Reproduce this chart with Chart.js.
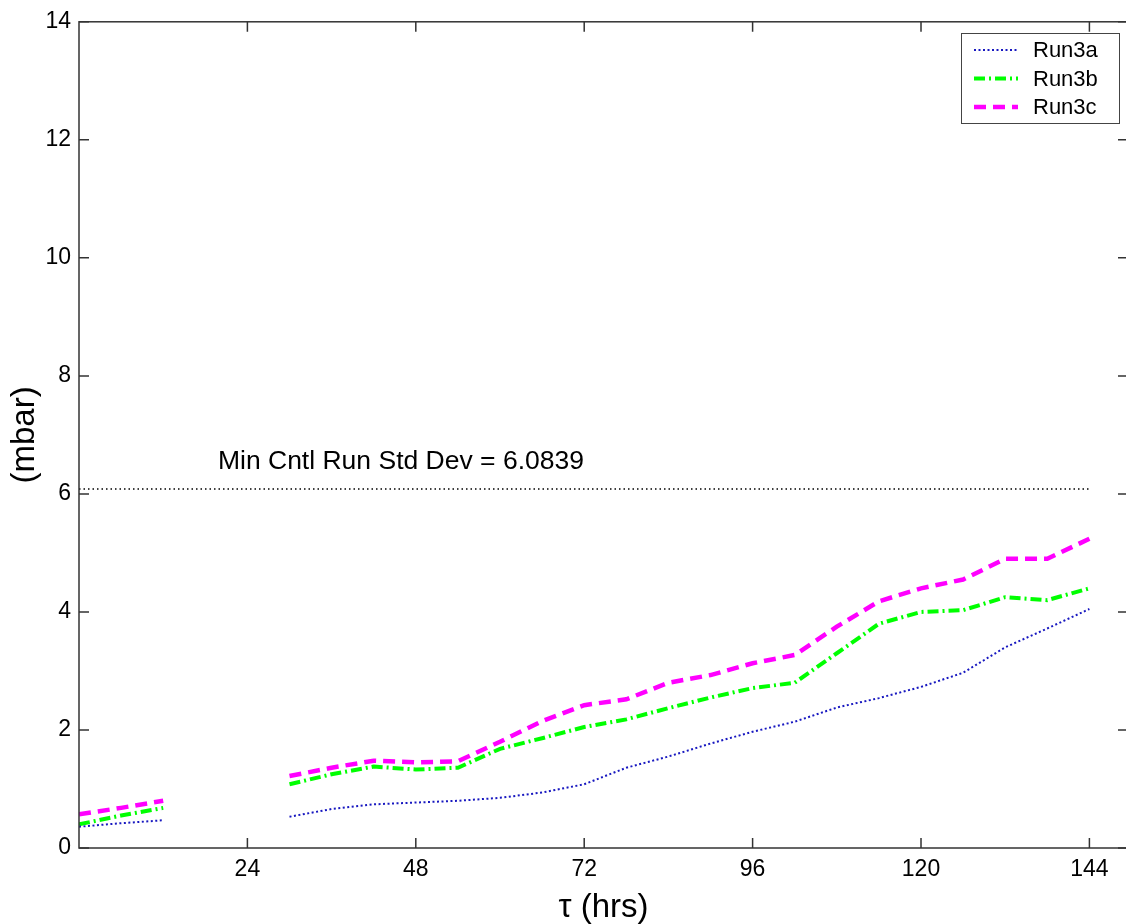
<!DOCTYPE html>
<html>
<head>
<meta charset="utf-8">
<script src="https://cdn.jsdelivr.net/npm/chart.js@4"></script>
<style>
  body { margin: 0; background: #fff; overflow: hidden; }
  #wrap { width: 1126px; height: 924px; overflow: hidden; }
</style>
</head>
<body>
<div id="wrap"><canvas id="myChart" width="1128" height="924"></canvas></div>
<script>
// forecast lead time (hrs), 18 and 24 are missing
const hours = [0, 6, 12, 18, 24, 30, 36, 42, 48, 54, 60, 66, 72, 78, 84, 90, 96, 102, 108, 114, 120, 126, 132, 138, 144];
const run3a = [0.36, 0.42, 0.47, null, null, 0.53, 0.66, 0.74, 0.77, 0.80, 0.85, 0.94, 1.08, 1.36, 1.55, 1.77, 1.97, 2.14, 2.38, 2.54, 2.73, 2.97, 3.40, 3.72, 4.05];
const run3b = [0.40, 0.55, 0.68, null, null, 1.08, 1.25, 1.38, 1.33, 1.36, 1.68, 1.86, 2.05, 2.18, 2.37, 2.55, 2.71, 2.80, 3.30, 3.80, 4.00, 4.03, 4.25, 4.20, 4.40];
const run3c = [0.57, 0.68, 0.80, null, null, 1.22, 1.36, 1.48, 1.45, 1.47, 1.80, 2.15, 2.42, 2.52, 2.80, 2.93, 3.13, 3.27, 3.75, 4.18, 4.40, 4.55, 4.90, 4.90, 5.24];

const refHours = [0, 144];
const refValue = 6.0839;
const refLabel = "Min Cntl Run Std Dev = 6.0839";

const xTicks = [24, 48, 72, 96, 120, 144];
const yTicks = [0, 2, 4, 6, 8, 10, 12, 14];

const FONT = "'Liberation Sans', Arial, sans-serif";

function toPoints(xs, ys) {
  return xs.map((x, i) => ({ x: x, y: ys[i] }));
}

// box, inward tick marks, text label and legend (matlab style)
const matlabPlugin = {
  id: "matlab",
  afterDraw(chart) {
    const { ctx, chartArea: a, scales } = chart;
    const xs = scales.x, ys = scales.y;
    ctx.save();
    ctx.strokeStyle = "#333";
    ctx.lineWidth = 1.5;
    ctx.strokeRect(a.left, a.top, a.right - a.left, a.bottom - a.top);

    const tl = 10;
    ctx.beginPath();
    xTicks.forEach((v) => {
      const px = xs.getPixelForValue(v);
      ctx.moveTo(px, a.bottom); ctx.lineTo(px, a.bottom - tl);
      ctx.moveTo(px, a.top); ctx.lineTo(px, a.top + tl);
    });
    yTicks.forEach((v) => {
      const py = ys.getPixelForValue(v);
      ctx.moveTo(a.left, py); ctx.lineTo(a.left + tl, py);
      ctx.moveTo(a.right, py); ctx.lineTo(a.right - tl, py);
    });
    ctx.stroke();

    // std dev label
    ctx.fillStyle = "#000";
    ctx.font = "26.5px " + FONT;
    ctx.textBaseline = "alphabetic";
    ctx.textAlign = "left";
    ctx.fillText(refLabel, xs.getPixelForValue(19.8), ys.getPixelForValue(6.42));

    // legend box
    const box = { left: 961, top: 33, width: 158, height: 90 };
    ctx.fillStyle = "#fff";
    ctx.fillRect(box.left, box.top, box.width, box.height);
    ctx.strokeStyle = "#444";
    ctx.lineWidth = 1;
    ctx.strokeRect(box.left + 0.5, box.top + 0.5, box.width, box.height);

    const items = chart.data.datasets.filter((d) => d.label);
    items.forEach((d, i) => {
      const y = box.top + 17 + i * 28.5;
      ctx.beginPath();
      ctx.setLineDash(d.borderDash || []);
      ctx.strokeStyle = d.borderColor;
      ctx.lineWidth = d.borderWidth;
      ctx.moveTo(974, y);
      ctx.lineTo(1018, y);
      ctx.stroke();
      ctx.setLineDash([]);
      ctx.fillStyle = "#000";
      ctx.font = "22px " + FONT;
      ctx.textBaseline = "middle";
      ctx.fillText(d.label, 1033, y + 1);
    });
    ctx.restore();
  },
};

const ctx = document.getElementById("myChart").getContext("2d");

new Chart(ctx, {
  type: "line",
  data: {
    datasets: [
      {
        label: "Run3a",
        data: toPoints(hours, run3a),
        borderColor: "#1818c0",
        borderWidth: 2,
        borderDash: [2, 2.5],
      },
      {
        label: "Run3b",
        data: toPoints(hours, run3b),
        borderColor: "#00ff00",
        borderWidth: 4,
        borderDash: [11, 4, 2, 4],
      },
      {
        label: "Run3c",
        data: toPoints(hours, run3c),
        borderColor: "#ff00ff",
        borderWidth: 4.5,
        borderDash: [12, 7],
      },
      {
        label: "",
        data: toPoints(refHours, refHours.map(() => refValue)),
        borderColor: "#000",
        borderWidth: 1.5,
        borderDash: [1.5, 3],
      },
    ],
  },
  options: {
    responsive: false,
    animation: false,
    spanGaps: false,
    elements: {
      point: { radius: 0 },
      line: { tension: 0, fill: false },
    },
    layout: { padding: { top: 21, right: 0, left: 0, bottom: 0 } },
    plugins: {
      legend: { display: false },
      tooltip: { enabled: false },
    },
    scales: {
      x: {
        type: "linear",
        min: 0,
        max: 149.5,
        grid: { display: false, drawTicks: false },
        border: { display: false },
        afterBuildTicks: (scale) => {
          scale.ticks = xTicks.map((v) => ({ value: v }));
        },
        afterFit: (scale) => {
          scale.height = 76;
        },
        ticks: {
          color: "#000",
          font: { family: FONT, size: 23 },
          padding: 8,
          maxRotation: 0,
        },
        title: {
          display: true,
          text: "τ (hrs)",
          color: "#000",
          font: { family: FONT, size: 33, lineHeight: 1 },
          padding: { top: 0, bottom: 0 },
        },
      },
      y: {
        min: 0,
        max: 14,
        grid: { display: false, drawTicks: false },
        border: { display: false },
        afterBuildTicks: (scale) => {
          scale.ticks = yTicks.map((v) => ({ value: v }));
        },
        afterFit: (scale) => {
          scale.width = 79;
        },
        ticks: {
          color: "#000",
          font: { family: FONT, size: 23 },
          padding: 8,
        },
        title: {
          display: true,
          text: "(mbar)",
          color: "#000",
          font: { family: FONT, size: 33, lineHeight: 1 },
          padding: { top: 8, bottom: 0 },
        },
      },
    },
  },
  plugins: [matlabPlugin],
});
</script>
</body>
</html>
